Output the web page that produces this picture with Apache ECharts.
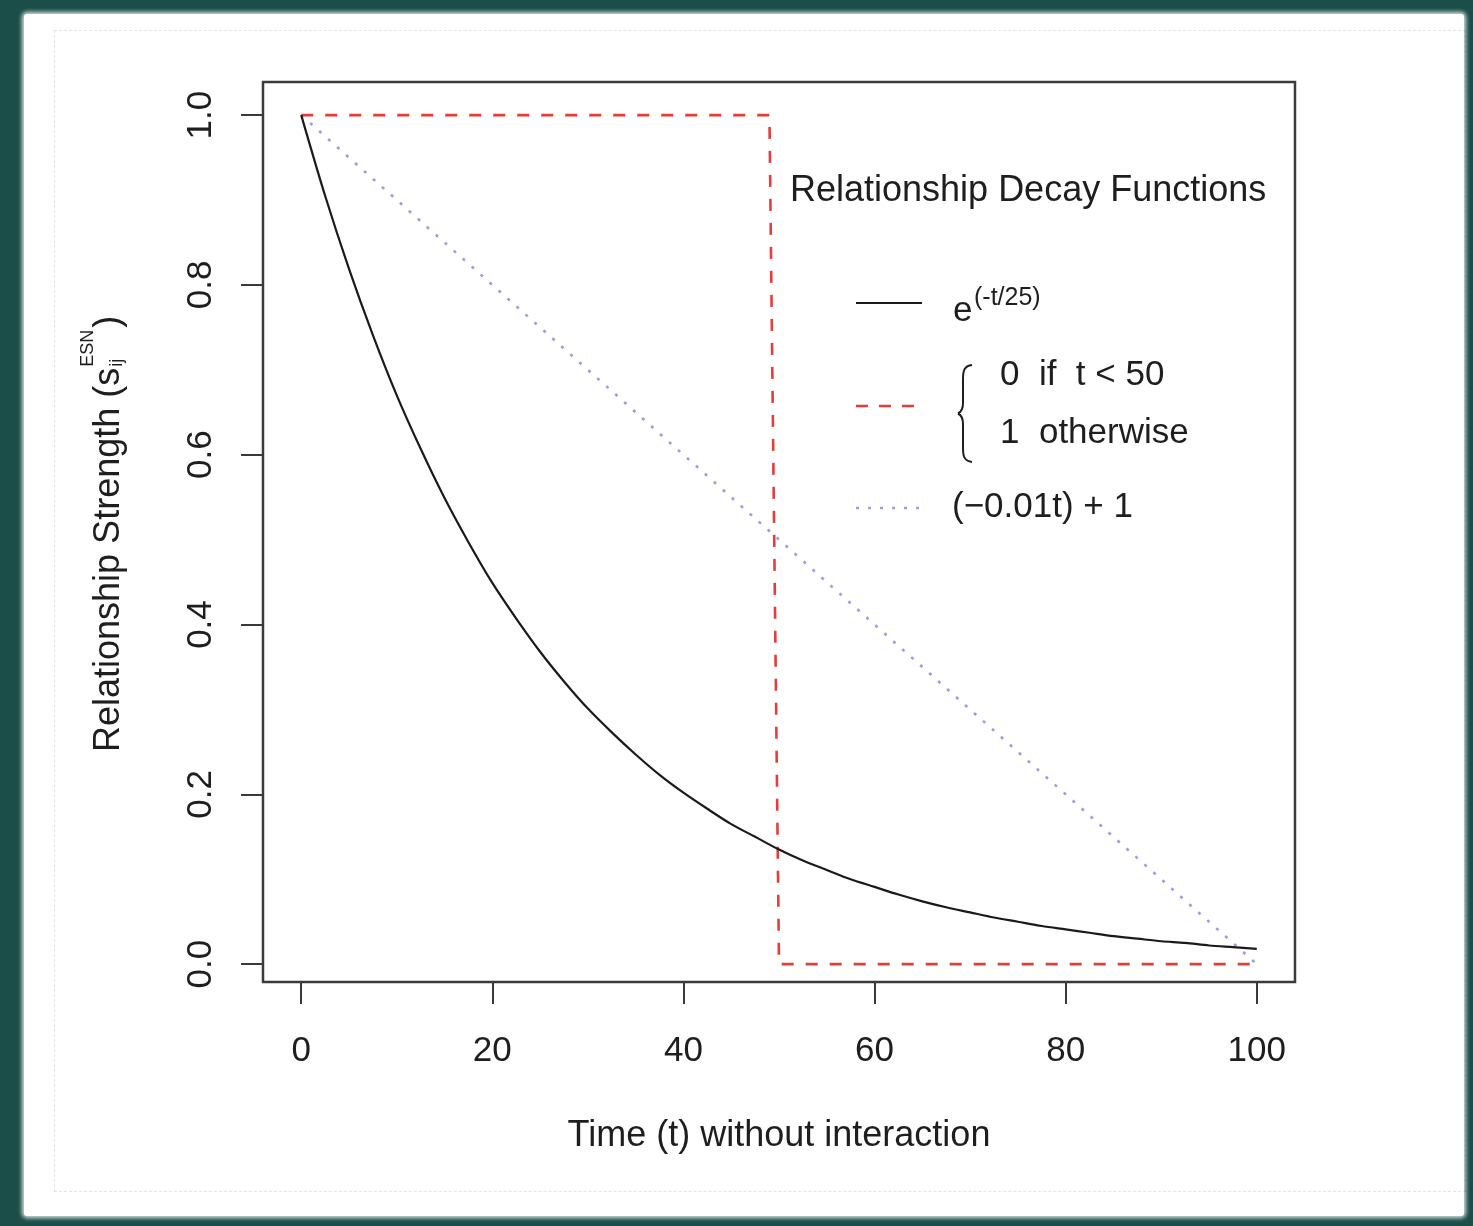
<!DOCTYPE html>
<html>
<head>
<meta charset="utf-8">
<script src="https://cdn.jsdelivr.net/npm/echarts@6/dist/echarts.min.js"></script>
<style>
  html, body { margin: 0; padding: 0; width: 1473px; height: 1226px; background: #1b4e48; overflow: hidden; }
  #paper { position: absolute; left: 24px; top: 14px; width: 1440px; height: 1202px; background: #ffffff;
           border-radius: 3px; box-shadow: 0 0 4px 2px rgba(255,255,255,0.85); }
  #inner { position: absolute; left: 30px; top: 16px; width: 1410px; height: 1160px; border: 1px dashed rgba(0,0,0,0.10); }
  #chart { position: absolute; left: 0; top: 0; width: 1473px; height: 1226px; }
</style>
</head>
<body>
<div id="paper"><div id="inner"></div></div>
<div id="chart"></div>
<script>
// ---- data ----
const tValues   = [0, 2.5, 5, 7.5, 10, 12.5, 15, 17.5, 20, 22.5, 25, 27.5, 30, 32.5, 35, 37.5, 40, 42.5, 45, 47.5, 50,
                   52.5, 55, 57.5, 60, 62.5, 65, 67.5, 70, 72.5, 75, 77.5, 80, 82.5, 85, 87.5, 90, 92.5, 95, 97.5, 100];
const expDecay  = [1.000, 0.905, 0.819, 0.741, 0.670, 0.607, 0.549, 0.497, 0.449, 0.407, 0.368, 0.333, 0.301, 0.273,
                   0.247, 0.223, 0.202, 0.183, 0.165, 0.150, 0.135, 0.122, 0.111, 0.100, 0.091, 0.082, 0.074, 0.067,
                   0.061, 0.055, 0.050, 0.045, 0.041, 0.037, 0.033, 0.030, 0.027, 0.025, 0.022, 0.020, 0.018];
const stepT      = [0, 49, 50, 100];
const stepValues = [1, 1, 0, 0];
const linearT      = [0, 100];
const linearValues = [1, 0];
const xTicks = [0, 20, 40, 60, 80, 100];
const yTicks = [0, 0.2, 0.4, 0.6, 0.8, 1.0];
const legendTitle = 'Relationship Decay Functions';
const xAxisName = 'Time (t) without interaction';
const yAxisNameMain = 'Relationship Strength (s';

const FONT = '"Liberation Sans", Arial, Helvetica, sans-serif';
const zip = (xs, ys) => xs.map((x, i) => [x, ys[i]]);

const mctx = document.createElement('canvas').getContext('2d');
function tw(text, size) { mctx.font = size + 'px ' + FONT; return mctx.measureText(text).width; }

const chart = echarts.init(document.getElementById('chart'), null, { renderer: 'canvas' });

const Y_FS = 36, SUP_FS = 18;
const mainW = tw(yAxisNameMain, Y_FS);
const supW = Math.max(tw('ESN', SUP_FS), tw('ij', SUP_FS));
const mid = (fs) => -0.3465 * fs; // baseline -> 'middle' offset

const braceStyle = { stroke: '#1e1e1e', lineWidth: 2, fill: 'none' };
const TXT = '#1e1e1e';
const DOT = '#9c9ce0';

const option = {
  animation: false,
  backgroundColor: 'transparent',
  grid: { left: 263, right: 178, top: 82, bottom: 244, show: true, borderColor: '#3a3a3a', borderWidth: 2.5, backgroundColor: 'transparent' },
  xAxis: {
    type: 'value', min: -4, max: 104,
    axisLine: { show: false, onZero: false },
    splitLine: { show: false },
    axisTick: { show: true, inside: false, length: 22, customValues: xTicks, lineStyle: { color: '#3a3a3a', width: 2 } },
    axisLabel: { customValues: xTicks, fontSize: 35, fontFamily: FONT, color: TXT, margin: 52 },
    name: xAxisName, nameLocation: 'middle', nameGap: 136,
    nameTextStyle: { fontSize: 36, fontFamily: FONT, color: TXT }
  },
  yAxis: {
    type: 'value', min: -0.021, max: 1.039,
    axisLine: { show: false, onZero: false },
    splitLine: { show: false },
    axisTick: { show: true, inside: false, length: 22, customValues: yTicks, lineStyle: { color: '#3a3a3a', width: 2 } },
    axisLabel: { customValues: yTicks, rotate: 90, fontSize: 35, fontFamily: FONT, color: TXT, margin: 44,
                 formatter: v => Number(v).toFixed(1) }
  },
  series: [
    { type: 'line', name: 'exp', data: zip(tValues, expDecay), showSymbol: false, smooth: 0.3,
      lineStyle: { color: '#1a1a1a', width: 2.2 }, z: 3 },
    { type: 'line', name: 'step', data: zip(stepT, stepValues), showSymbol: false,
      lineStyle: { color: '#e43d3a', width: 2.6, type: [12, 12] }, z: 2 },
    { type: 'line', name: 'linear', data: zip(linearT, linearValues), showSymbol: false,
      lineStyle: { color: DOT, width: 2.6, type: [3, 9] }, z: 1 }
  ],
  graphic: [
    // y-axis name (rotated, reading bottom to top)
    { type: 'group', x: 122, y: 752, rotation: Math.PI / 2, children: [
      { type: 'text', x: 0, y: mid(Y_FS), style: { text: yAxisNameMain, font: Y_FS + 'px ' + FONT, fill: TXT, verticalAlign: 'middle', align: 'left' } },
      { type: 'text', x: mainW + 1, y: 1 + mid(SUP_FS), style: { text: 'ij', font: SUP_FS + 'px ' + FONT, fill: TXT, verticalAlign: 'middle', align: 'left' } },
      { type: 'text', x: mainW + 1, y: -28 + mid(SUP_FS), style: { text: 'ESN', font: SUP_FS + 'px ' + FONT, fill: TXT, verticalAlign: 'middle', align: 'left' } },
      { type: 'text', x: mainW + supW + 3, y: mid(Y_FS), style: { text: ')', font: Y_FS + 'px ' + FONT, fill: TXT, verticalAlign: 'middle', align: 'left' } }
    ]},
    // legend
    { type: 'text', x: 790, y: 191, style: { text: legendTitle, font: '36px ' + FONT, fill: TXT, verticalAlign: 'middle' } },
    { type: 'line', shape: { x1: 856, y1: 303, x2: 922, y2: 303 }, style: { stroke: '#1a1a1a', lineWidth: 2.2 } },
    { type: 'text', x: 953, y: 311, style: { text: 'e', font: '35px ' + FONT, fill: TXT, verticalAlign: 'middle' } },
    { type: 'text', x: 974, y: 298, style: { text: '(-t/25)', font: '25px ' + FONT, fill: TXT, verticalAlign: 'middle' } },
    { type: 'line', shape: { x1: 856, y1: 406, x2: 916, y2: 406 }, style: { stroke: '#e43d3a', lineWidth: 2.6, lineDash: [12, 11] } },
    // brace
    { type: 'bezierCurve', shape: { x1: 972, y1: 365, cpx1: 964, cpy1: 366, cpx2: 963, cpy2: 371, x2: 963, y2: 379 }, style: braceStyle },
    { type: 'line', shape: { x1: 963, y1: 379, x2: 963, y2: 403 }, style: braceStyle },
    { type: 'bezierCurve', shape: { x1: 963, y1: 403, cpx1: 963, cpy1: 410, cpx2: 961, cpy2: 412, x2: 958, y2: 413.5 }, style: braceStyle },
    { type: 'bezierCurve', shape: { x1: 958, y1: 413.5, cpx1: 961, cpy1: 415, cpx2: 963, cpy2: 417, x2: 963, y2: 424 }, style: braceStyle },
    { type: 'line', shape: { x1: 963, y1: 424, x2: 963, y2: 448 }, style: braceStyle },
    { type: 'bezierCurve', shape: { x1: 963, y1: 448, cpx1: 963, cpy1: 456, cpx2: 964, cpy2: 461, x2: 972, y2: 462 }, style: braceStyle },
    { type: 'text', x: 1000, y: 375, style: { text: '0  if  t < 50', font: '35px ' + FONT, fill: TXT, verticalAlign: 'middle' } },
    { type: 'text', x: 1000, y: 433, style: { text: '1  otherwise', font: '35px ' + FONT, fill: TXT, verticalAlign: 'middle' } },
    { type: 'line', shape: { x1: 856, y1: 508, x2: 920, y2: 508 }, style: { stroke: DOT, lineWidth: 2.6, lineDash: [3, 9] } },
    { type: 'text', x: 952, y: 507, style: { text: '(\u22120.01t) + 1', font: '35px ' + FONT, fill: TXT, verticalAlign: 'middle' } }
  ]
};
chart.setOption(option);
</script>
</body>
</html>
